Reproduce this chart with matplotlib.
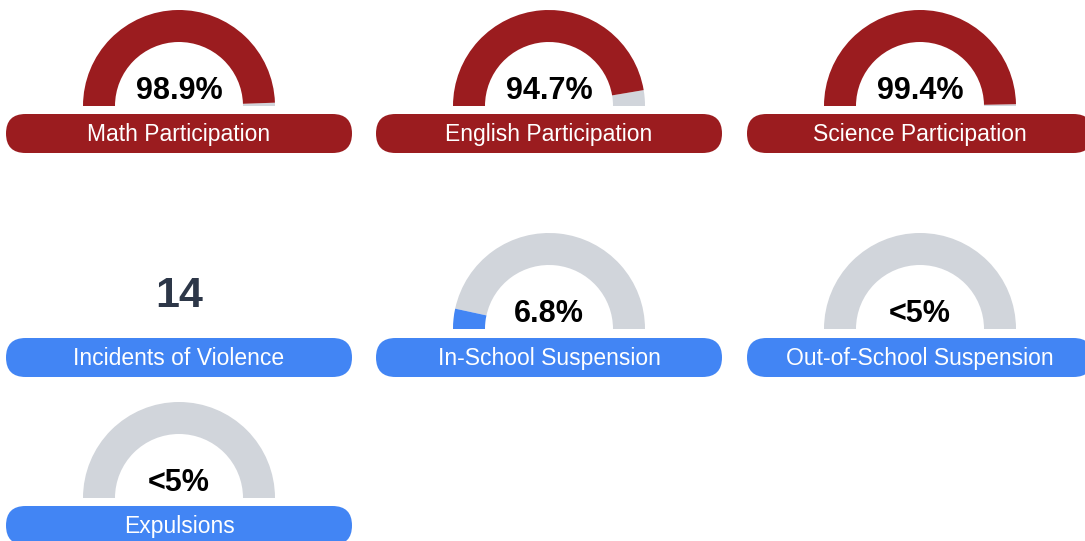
import matplotlib
matplotlib.use("Agg")
import matplotlib.pyplot as plt
from matplotlib import font_manager
from matplotlib.patches import Wedge, FancyBboxPatch

plt.rcParams["font.family"] = ["Liberation Sans", "DejaVu Sans"]


def liberation(bold):
    # pick the plain (not Narrow) Liberation Sans file explicitly
    for f in font_manager.fontManager.ttflist:
        if f.name == "Liberation Sans" and f.style == "normal" and "Narrow" not in f.fname:
            is_bold = f.weight in (700, "bold")
            if is_bold == bold:
                return font_manager.FontProperties(fname=f.fname)
    return font_manager.FontProperties(family="Liberation Sans",
                                       weight="bold" if bold else "normal")


FP_BOLD = liberation(True)
FP_REG = liberation(False)

# --- data ---
titles = ["Math Participation", "English Participation", "Science Participation",
          "Incidents of Violence", "In-School Suspension", "Out-of-School Suspension",
          "Expulsions"]
values = [98.9, 94.7, 99.4, None, 6.8, 0.0, 0.0]
value_texts = ["98.9%", "94.7%", "99.4%", "14", "6.8%", "<5%", "<5%"]
groups = ["participation"] * 3 + ["discipline"] * 4

# --- layout (pixel coords, y downwards) ---
W, H = 1085, 541
col_x = [179, 549, 920]
row_base = [106, 329, 498]      # gauge baseline
pill_top = [114, 338, 506]
R_OUT, R_IN = 96, 64
PILL_W, PILL_H = 346, 39

RED = "#9b1c1f"
BLUE = "#4285f4"
GRAY = "#d1d5db"
group_color = {"participation": RED, "discipline": BLUE}

fig = plt.figure(figsize=(W / 100, H / 100), dpi=100)
ax = fig.add_axes([0, 0, 1, 1])
ax.set_xlim(0, W)
ax.set_ylim(H, 0)
ax.axis("off")

for i, title in enumerate(titles):
    r, c = divmod(i, 3)
    cx = col_x[c]
    base = row_base[r]
    color = group_color[groups[i]]
    val = values[i]

    if val is not None:
        # y axis is inverted, so the upper half runs from 180 to 360 degrees
        split = 180 + val / 100 * 180
        ax.add_patch(Wedge((cx, base), R_OUT, split, 360, width=R_OUT - R_IN,
                           facecolor=GRAY, edgecolor="none"))
        if val > 0:
            ax.add_patch(Wedge((cx, base), R_OUT, 180, split, width=R_OUT - R_IN,
                               facecolor=color, edgecolor="none"))
        ax.text(cx, base - 15, value_texts[i], ha="center", va="center",
                fontproperties=FP_BOLD, fontsize=22, color="black")
    else:
        ax.text(cx, base - 33, value_texts[i], ha="center", va="center",
                fontproperties=FP_BOLD, fontsize=31, color="#2d3748")

    top = pill_top[r]
    ax.add_patch(FancyBboxPatch((cx - PILL_W / 2, top), PILL_W, PILL_H,
                                boxstyle="round,pad=0,rounding_size=19.5",
                                facecolor=color, edgecolor="none"))
    ax.text(cx, top + PILL_H / 2 + 1, title, ha="center", va="center",
            fontproperties=FP_REG, fontsize=16.5, color="white")

fig.savefig("out.png", dpi=100)
